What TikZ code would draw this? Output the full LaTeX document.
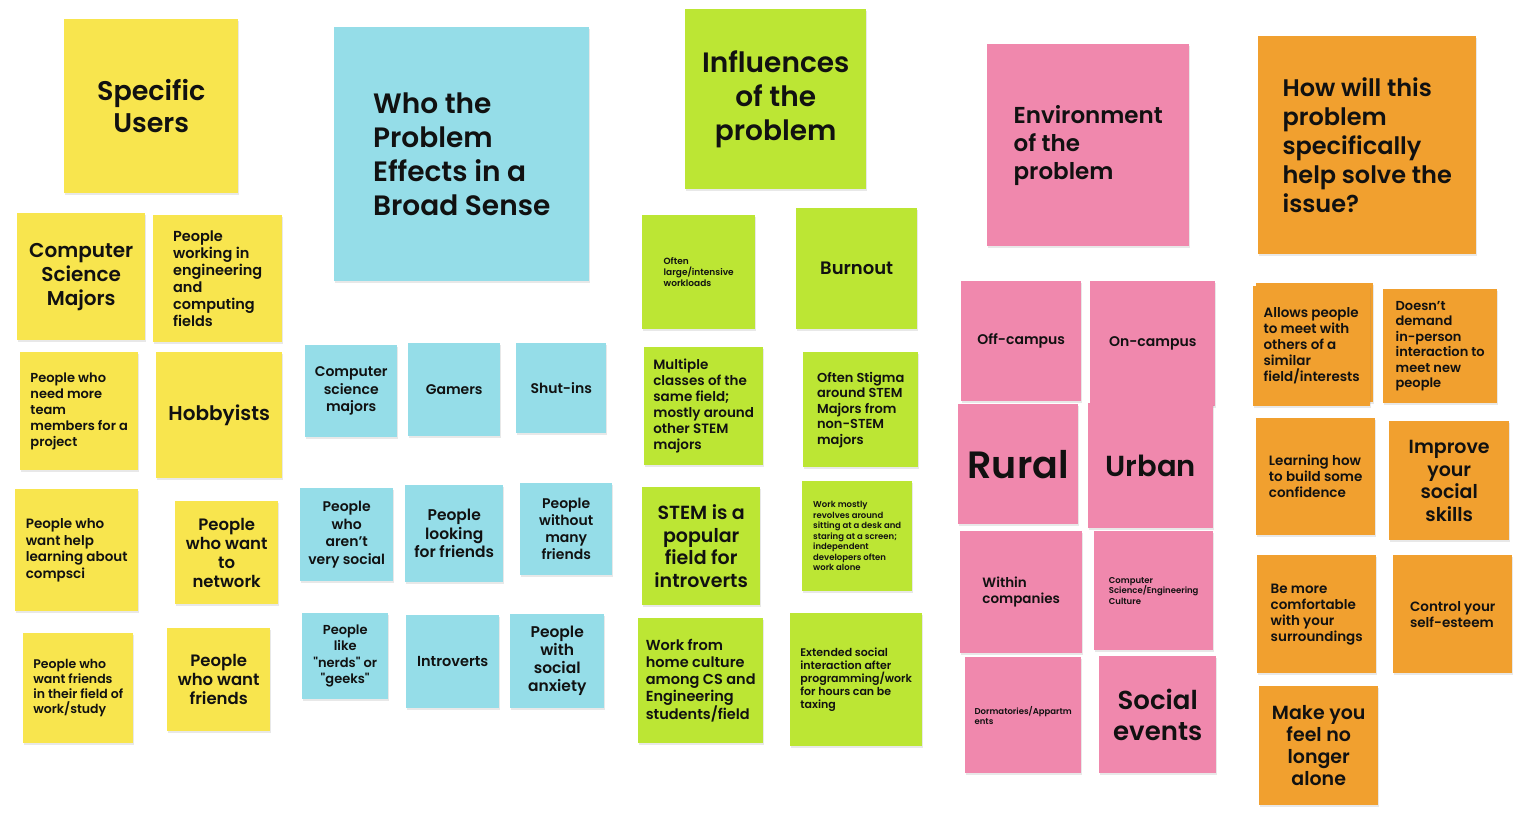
\documentclass[tikz,border=0pt]{standalone}
\usepackage{fontspec}
\IfFontExistsTF{Poppins SemiBold}{\setmainfont{Poppins}[BoldFont={Poppins SemiBold}]
  \newfontfamily\qfont{Poppins}[Ligatures=ResetAll, BoldFont={Poppins SemiBold}]}{\setmainfont{Poppins}
  \newfontfamily\qfont{Poppins}[Ligatures=ResetAll]}
\usepackage{xcolor}
\usepackage{tikz}
\usetikzlibrary{shadows}
\definecolor{nyel}{HTML}{F8E54E}
\definecolor{nblue}{HTML}{95DDE8}
\definecolor{ngreen}{HTML}{BCE634}
\definecolor{npink}{HTML}{F088AD}
\definecolor{norange}{HTML}{F1A02F}
\definecolor{ntext}{HTML}{111111}
\newcommand\sq{{\qfont\bfseries\symbol{34}}}
\tikzset{
  note/.style  = {anchor=north west, inner sep=0pt, align=center, text=ntext,
                  drop shadow={shadow xshift=0.5pt, shadow yshift=-2pt, opacity=0.18}},
  yel/.style   = {note, fill=nyel},
  blu/.style   = {note, fill=nblue},
  grn/.style   = {note, fill=ngreen},
  pnk/.style   = {note, fill=npink},
  org/.style   = {note, fill=norange},
  lft/.style   = {align=left},
  sz/.style 2 args = {minimum width=#1pt, minimum height=#2pt},
  fs/.style 2 args = {font=\fontsize{#1}{#2}\selectfont\bfseries},
}
\begin{document}
\begin{tikzpicture}[x=1pt, y=-1pt]
  \useasboundingbox[fill=white] (0,0) rectangle (1522,813);

  % who the users are
  \node[yel, sz={174}{174}, fs={27}{32}] (specific) at (64,19) {Specific\\Users};
  \node[yel, sz={128}{127}, fs={20}{24}] (csmajors) at (17,213) {Computer\\Science\\Majors};
  \node[yel, lft, sz={129}{127}, fs={14.5}{17}] (engfields) at (153,215) {People\\working in\\engineering\\and\\computing\\fields};
  \node[yel, lft, sz={118}{118}, fs={13}{16}] (teamneed) at (20,352) {People who\\need more\\team\\members for a\\project};
  \node[yel, sz={126}{126}, fs={20}{24}] (hobby) at (156,352) {Hobbyists};
  \node[yel, lft, sz={123}{122}, fs={13.5}{16.5}] (helpcs) at (15,489) {People who\\want help\\learning about\\compsci};
  \node[yel, sz={103}{103}, fs={16.5}{19}] (network) at (175,501) {People\\who want\\to\\network};
  \node[yel, lft, sz={110}{110}, fs={12.5}{15}] (fieldfr) at (23,633) {People who\\want friends\\in their field of\\work/study};
  \node[yel, sz={103}{103}, fs={16.5}{19}] (wantfr) at (167,628) {People\\who want\\friends};

  % broad sense
  \node[blu, lft, sz={255}{254}, fs={28}{34}] (broad) at (334,27) {Who the\\Problem\\Effects in a\\Broad Sense};
  \node[blu, sz={92}{92}, fs={14}{17.5}] (bcs) at (305,345) {Computer\\science\\majors};
  \node[blu, sz={92}{93}, fs={14}{17}] (gamers) at (408,343) {Gamers};
  \node[blu, sz={90}{90}, fs={14}{17}] (shutins) at (516,343) {Shut-ins};
  \node[blu, sz={93}{93}, fs={14}{17.5}] (notsocial) at (300,488) {People\\who\\aren't\\very social};
  \node[blu, sz={98}{97}, fs={15.5}{18.5}] (looking) at (405,485) {People\\looking\\for friends};
  \node[blu, sz={92}{92}, fs={14}{17}] (without) at (520,483) {People\\without\\many\\friends};
  \node[blu, sz={86}{86}, fs={13}{16.5}] (nerds) at (302,613) {People\\like\\\sq nerds\sq{} or\\\sq geeks\sq};
  \node[blu, sz={93}{93}, fs={14.5}{17}] (introverts) at (406,615) {Introverts};
  \node[blu, sz={94}{94}, fs={15.5}{18}] (anxiety) at (510,614) {People\\with\\social\\anxiety};

  % influences
  \node[grn, sz={181}{180}, fs={28}{34}] (influences) at (685,9) {Influences\\of the\\problem};
  \node[grn, lft, sz={113}{114}, fs={9}{11}] (workloads) at (642,215) {Often\\large/intensive\\workloads};
  \node[grn, sz={121}{121}, fs={18}{22}] (burnout) at (796,208) {Burnout};
  \node[grn, lft, sz={119}{118}, fs={13.5}{16}] (classes) at (644,347) {Multiple\\classes of the\\same field;\\mostly around\\other STEM\\majors};
  \node[grn, lft, sz={115}{115}, fs={13}{15.5}] (stigma) at (803,352) {Often Stigma\\around STEM\\Majors from\\non-STEM\\majors};
  \node[grn, sz={118}{118}, fs={19}{22.5}] (popular) at (642,487) {STEM is a\\popular\\field for\\introverts};
  \node[grn, lft, sz={110}{110}, fs={8.5}{10.5}] (desk) at (802,481) {Work mostly\\revolves around\\sitting at a desk and\\staring at a screen;\\independent\\developers often\\work alone};
  \node[grn, lft, sz={125}{125}, fs={14.5}{17}] (wfh) at (638,618) {Work from\\home culture\\among CS and\\Engineering\\students/field};
  \node[grn, lft, sz={132}{133}, fs={11}{13}] (taxing) at (790,613) {Extended social\\interaction after\\programming/work\\for hours can be\\taxing};

  % environment
  \node[pnk, lft, sz={202}{202}, fs={23}{28}] (environment) at (987,44) {Environment\\of the\\problem};
  \node[pnk, sz={120}{120}, fs={14}{17}] (offcampus) at (961,281) {Off-campus};
  \node[pnk, sz={125}{125}, fs={14}{17}] (oncampus) at (1090,281) {On-campus};
  \node[pnk, sz={120}{120}, fs={38}{46}] (rural) at (958,404) {Rural};
  \node[pnk, sz={125}{125}, fs={29}{34}] (urban) at (1088,403) {Urban};
  \node[pnk, lft, sz={122}{122}, fs={13.5}{16}] (companies) at (960,531) {Within\\companies};
  \node[pnk, lft, sz={119}{119}, fs={8.5}{10.5}] (culture) at (1094,531) {Computer\\Science/Engineering\\Culture};
  \node[pnk, lft, sz={116}{116}, fs={8.5}{10}] (dorms) at (965,657) {Dormatories/Appartm\\ents};
  \node[pnk, sz={117}{117}, fs={26}{31}] (socialev) at (1099,656) {Social\\events};

  % how it helps
  \node[org, lft, sz={218}{218}, fs={24}{29}] (howwill) at (1258,36) {How will this\\problem\\specifically\\help solve the\\issue?};
  \node[org, sz={117}{119}] (allowsback) at (1256,283) {};
  \node[org, lft, sz={117}{120}, fs={13.5}{16}] (allows) at (1253,286) {Allows people\\to meet with\\others of a\\similar\\field/interests};
  \node[org, lft, sz={114}{114}, fs={13}{15.5}] (doesnt) at (1383,289) {Doesn't\\demand\\in-person\\interaction to\\meet new\\people};
  \node[org, lft, sz={119}{117}, fs={13.5}{16}] (confidence) at (1256,418) {Learning how\\to build some\\confidence};
  \node[org, sz={120}{119}, fs={19}{22.5}] (improve) at (1389,421) {Improve\\your\\social\\skills};
  \node[org, lft, sz={119}{118}, fs={13.5}{16}] (comfortable) at (1257,555) {Be more\\comfortable\\with your\\surroundings};
  \node[org, lft, sz={119}{118}, fs={13.5}{16}] (esteem) at (1393,555) {Control your\\self-esteem};
  \node[org, sz={119}{119}, fs={19}{22}] (alone) at (1259,686) {Make you\\feel no\\longer\\alone};
\end{tikzpicture}
\end{document}
